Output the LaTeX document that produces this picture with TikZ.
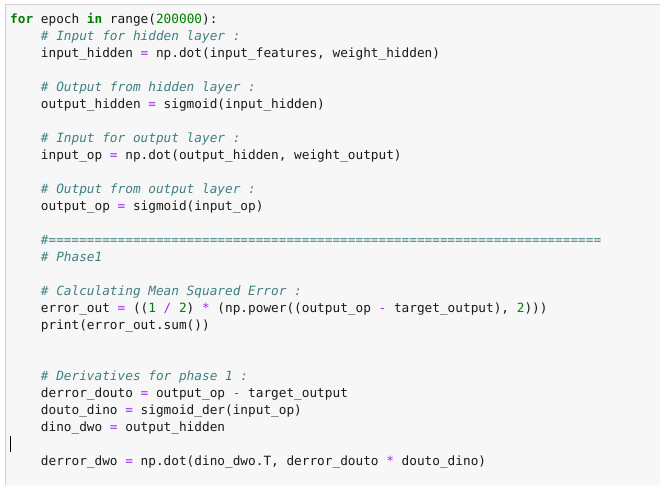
\documentclass[tikz,border=0pt]{standalone}
\usepackage{fontspec}
\setmonofont{DejaVu Sans Mono}[Scale=1]
\definecolor{bg}{HTML}{F7F7F7}
\definecolor{bd}{HTML}{CFCFCF}
\definecolor{kwc}{HTML}{008000}
\definecolor{cmc}{HTML}{408080}
\definecolor{opc}{HTML}{AA22FF}
\definecolor{txc}{HTML}{1A1A1A}
\newcommand{\Kw}[1]{\textcolor{kwc}{\bfseries #1}}
\newcommand{\Cm}[1]{\textcolor{cmc}{\itshape #1}}
\newcommand{\Op}[1]{\textcolor{opc}{#1}}
\newcommand{\Nm}[1]{\textcolor{kwc}{#1}}
\begin{document}
\begin{tikzpicture}[x=1pt,y=-1pt,
  codeline/.style={anchor=base west,inner sep=0pt,font=\ttfamily\fontsize{12.75}{15}\selectfont,text=txc}]
\useasboundingbox (0,0) rectangle (660,485);
\fill[white] (0,0) rectangle (660,485);
\fill[bg] (5,4) rectangle (660,485);
\draw[bd,line width=1pt] (5,485) -- (5,4) -- (660,4);
\def\ind{40.7}
\node[codeline] (l1) at (10,23) {\Kw{for} epoch \Kw{in} range(\Nm{200000}):};
\node[codeline] (l2) at (\ind,{23+17*1}) {\Cm{\# Input for hidden layer :}};
\node[codeline] (l3) at (\ind,{23+17*2}) {input\_hidden \Op{=} np.dot(input\_features, weight\_hidden)};
\node[codeline] (l5) at (\ind,{23+17*4}) {\Cm{\# Output from hidden layer :}};
\node[codeline] (l6) at (\ind,{23+17*5}) {output\_hidden \Op{=} sigmoid(input\_hidden)};
\node[codeline] (l8) at (\ind,{23+17*7}) {\Cm{\# Input for output layer :}};
\node[codeline] (l9) at (\ind,{23+17*8}) {input\_op \Op{=} np.dot(output\_hidden, weight\_output)};
\node[codeline] (l11) at (\ind,{23+17*10}) {\Cm{\# Output from output layer :}};
\node[codeline] (l12) at (\ind,{23+17*11}) {output\_op \Op{=} sigmoid(input\_op)};
\node[codeline] (l14) at (\ind,{23+17*13}) {\Cm{\#========================================================================}};
\node[codeline] (l15) at (\ind,{23+17*14}) {\Cm{\# Phase1}};
\node[codeline] (l17) at (\ind,{23+17*16}) {\Cm{\# Calculating Mean Squared Error :}};
\node[codeline] (l18) at (\ind,{23+17*17}) {error\_out \Op{=} ((\Nm{1} \Op{/} \Nm{2}) \Op{*} (np.power((output\_op \Op{-} target\_output), \Nm{2})))};
\node[codeline] (l19) at (\ind,{23+17*18}) {print(error\_out.sum())};
\node[codeline] (l22) at (\ind,{23+17*21}) {\Cm{\# Derivatives for phase 1 :}};
\node[codeline] (l23) at (\ind,{23+17*22}) {derror\_douto \Op{=} output\_op \Op{-} target\_output};
\node[codeline] (l24) at (\ind,{23+17*23}) {douto\_dino \Op{=} sigmoid\_der(input\_op)};
\node[codeline] (l25) at (\ind,{23+17*24}) {dino\_dwo \Op{=} output\_hidden};
\node[codeline] (l27) at (\ind,{23+17*26}) {derror\_dwo \Op{=} np.dot(dino\_dwo.T, derror\_douto \Op{*} douto\_dino)};
\draw[black,line width=1pt] (10.5,436) -- (10.5,452);
\end{tikzpicture}
\end{document}
